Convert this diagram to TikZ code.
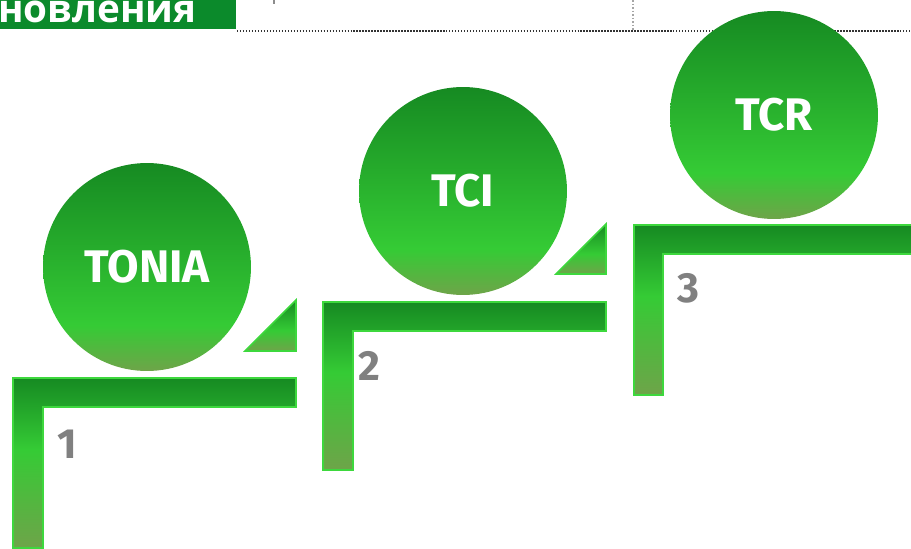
\documentclass[tikz,border=0pt]{standalone}
\usepackage{fontspec}
\setmainfont{Fira Sans}
\newfontfamily\bannerfont{Open Sans}
\usepackage{xcolor}
\usetikzlibrary{positioning}

\definecolor{stepdark}{HTML}{168A22}
\definecolor{stepbright}{HTML}{35CB35}
\definecolor{stepolive}{HTML}{6EA449}
\definecolor{stepedge}{HTML}{3DD83D}
\definecolor{bannergreen}{HTML}{0B8A2B}
\definecolor{numgray}{HTML}{808080}

\pgfdeclareverticalshading{ballfade}{100bp}{color(0bp)=(stepolive); color(25bp)=(stepolive); color(36bp)=(stepbright); color(75bp)=(stepdark); color(100bp)=(stepdark)}
\pgfdeclareverticalshading{stairfade}{100bp}{color(0bp)=(stepolive); color(25bp)=(stepolive); color(54bp)=(stepbright); color(75bp)=(stepdark); color(100bp)=(stepdark)}
\pgfdeclareverticalshading{wedgefade}{100bp}{color(0bp)=(stepolive); color(25bp)=(stepolive); color(45bp)=(stepbright); color(75bp)=(stepdark); color(100bp)=(stepdark)}

\tikzset{
	ball/.style = {circle, shade, shading=ballfade, minimum size=4.16cm, inner sep=0pt,
		text=white, font=\fontsize{26}{30}\selectfont\bfseries},
	stair/.style = {shade, shading=stairfade, draw=stepedge, line width=0.9pt},
	wedge/.style = {shade, shading=wedgefade, draw=stepedge, line width=0.9pt},
	num/.style = {anchor=base west, inner sep=0pt, text=numgray, font=\fontsize{24}{28}\selectfont\bfseries}
}

\begin{document}
\begin{tikzpicture}[x=0.02cm, y=-0.02cm]
	\useasboundingbox (0,0) rectangle (911,548);

	% heading strip at the top
	\fill[bannergreen] (0,0) rectangle (236,29);
	\node[anchor=base east, inner sep=0pt, text=white, font=\bannerfont\fontsize{22}{26}\selectfont\bfseries] (title) at (197,22) {новления};
	\draw[black!80, line width=0.8pt, dash pattern=on 0.8pt off 0.9pt] (237,31) -- (911,31);
	\draw[black!35, line width=1pt, dash pattern=on 1pt off 1pt] (633,0) -- (633,30);
	\draw[black!45, line width=0.6pt] (274,0) -- (274,4);

	% step 1
	\draw[stair] (13,378) -- (296,378) -- (296,407) -- (43,407) -- (43,548) -- (13,548) -- cycle;
	\draw[wedge] (245,351) -- (296,351) -- (296,300) -- cycle;
	\node[ball] (tonia) at (147,267) {TONIA};
	\node[num] (n1) at (57,458) {1};

	% step 2
	\draw[stair] (323,302) -- (606,302) -- (606,331) -- (353,331) -- (353,470) -- (323,470) -- cycle;
	\draw[wedge] (556,274) -- (606,274) -- (606,224) -- cycle;
	\node[ball] (tci) at (463,191) {TCI};
	\node[num] (n2) at (358,380) {2};

	% step 3
	\draw[stair] (634,225) -- (915,225) -- (915,254) -- (663,254) -- (663,395) -- (634,395) -- cycle;
	\node[ball] (tcr) at (774,115) {TCR};
	\node[num] (n3) at (677,302) {3};
\end{tikzpicture}
\end{document}
